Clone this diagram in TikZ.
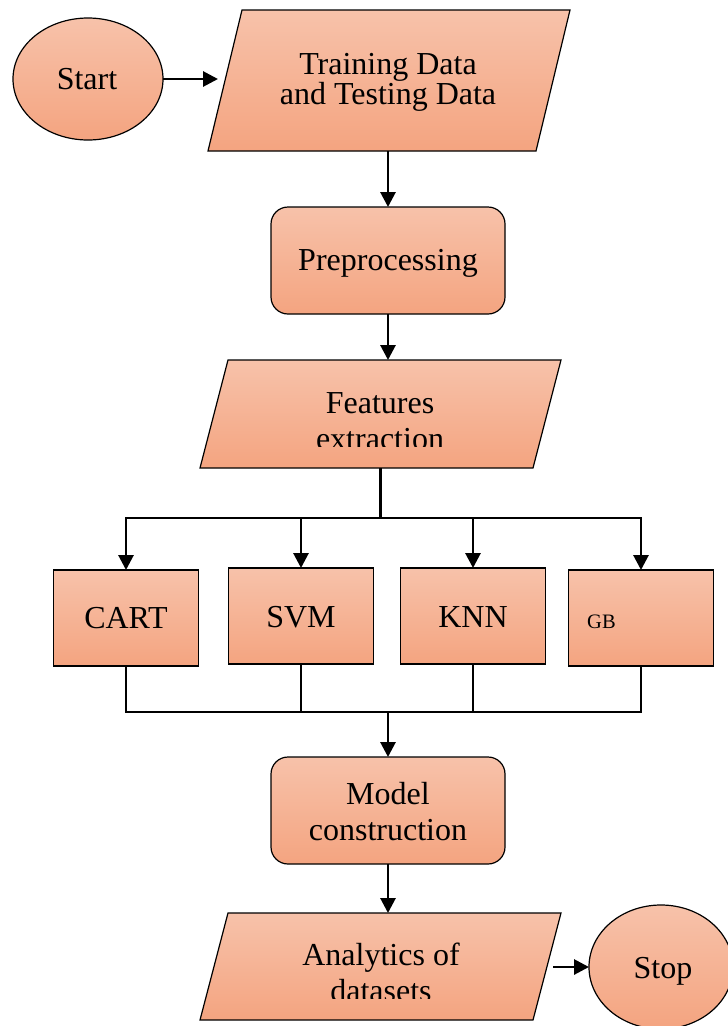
\documentclass[tikz,border=0pt]{standalone}
\usepackage{fontspec}
\setmainfont{Liberation Serif}
\usetikzlibrary{shapes.geometric,arrows.meta,calc}
\definecolor{boxtop}{RGB}{247,194,170}
\definecolor{boxbot}{RGB}{244,164,128}
\begin{document}
\begin{tikzpicture}[x=1pt,y=-1pt,
  shadebox/.style={top color=boxtop,bottom color=boxbot,draw=black,line width=1.2pt,inner sep=0pt,outer sep=0pt},
  frame/.style={rectangle,draw=none,inner sep=0pt,outer sep=0pt},
  roundbox/.style={shadebox,rectangle,rounded corners=17pt,minimum width=234pt,minimum height=107pt},
  algbox/.style={shadebox,rectangle,minimum width=145pt,minimum height=96pt},
  oval/.style={shadebox,ellipse},
  lbl/.style={anchor=base,inner sep=0pt,font=\fontsize{32}{38}\selectfont},
  conn/.style={line width=2.9pt},
  arr/.style={conn,-{Triangle[length=15pt,width=15pt]}}
]
\useasboundingbox (0,0) rectangle (728,1026);

% shapes
\node[oval,minimum width=150pt,minimum height=122pt] (start) at (88,79) {};
\node[frame,minimum width=362pt,minimum height=141pt] (training) at (389,80.5) {};
\path[shadebox] ([xshift=34pt]training.north west) -- (training.north east)
  -- ([xshift=-34pt]training.south east) -- (training.south west) -- cycle;
\node[roundbox] (prep) at (388,260.5) {};
\node[frame,minimum width=361pt,minimum height=108pt] (features) at (380.5,414) {};
\path[shadebox] ([xshift=28pt]features.north west) -- (features.north east)
  -- ([xshift=-28pt]features.south east) -- (features.south west) -- cycle;
\node[algbox] (cart) at (126,618) {};
\node[algbox] (svm) at (301,616) {};
\node[algbox] (knn) at (473,616) {};
\node[algbox] (gb) at (641,618) {};
\node[roundbox] (model) at (388,810.5) {};
\node[frame,minimum width=361pt,minimum height=107pt] (analytics) at (380.5,966.5) {};
\path[shadebox] ([xshift=28pt]analytics.north west) -- (analytics.north east)
  -- ([xshift=-28pt]analytics.south east) -- (analytics.south west) -- cycle;
\node[oval,minimum width=144pt,minimum height=124pt] (stop) at (661,967) {};

% texts
\node[lbl] (tstart) at (87,89) {Start};
\node[lbl] (ttrain1) at (388,74) {Training Data};
\node[lbl] (ttrain2) at (388,104) {and Testing Data};
\node[lbl] (tprep) at (388,270) {Preprocessing};
\node[lbl] (tfeat1) at (380,413) {Features};
\begin{scope}
  \clip (200,350) rectangle (560,446);
  \node[lbl] (tfeat2) at (380,449) {extraction};
\end{scope}
\node[lbl] (tcart) at (126,628) {CART};
\node[lbl] (tsvm) at (301,627) {SVM};
\node[lbl] (tknn) at (473,627) {KNN};
\node[anchor=base west,inner sep=0pt,font=\fontsize{20.5}{24}\selectfont] (tgb) at (587,628) {GB};
\node[lbl] (tmodel1) at (388,804) {Model};
\node[lbl] (tmodel2) at (388,840) {construction};
\node[lbl] (tana1) at (381,965) {Analytics of};
\begin{scope}
  \clip (200,900) rectangle (560,998);
  \node[lbl] (tana2) at (381,1001) {datasets};
\end{scope}
\node[lbl] (tstop) at (663,978) {Stop};

% connectors
\coordinate (split) at (380.5,518);
\coordinate (merge) at (388,712);
\draw[arr] (start.east) -- ($(start.east -| training.west)+(10,0)$);
\draw[arr] (training.south -| prep.north) -- (prep.north);
\draw[arr] (prep.south) -- (prep.south |- features.north);
\draw[conn] (features.south) -- (split);
\draw[arr] (split) -| (cart.north);
\draw[arr] (split) -| (svm.north);
\draw[arr] (split) -| (knn.north);
\draw[arr] (split) -| (gb.north);
\draw[conn] (cart.south) |- (merge);
\draw[conn] (svm.south) |- (merge);
\draw[conn] (knn.south) |- (merge);
\draw[conn] (gb.south) |- (merge);
\draw[arr] (merge) -- (model.north);
\draw[arr] (model.south) -- (model.south |- analytics.north);
\draw[arr] ($(analytics.east |- stop.west)+(-8,0)$) -- (stop.west);
\end{tikzpicture}
\end{document}
